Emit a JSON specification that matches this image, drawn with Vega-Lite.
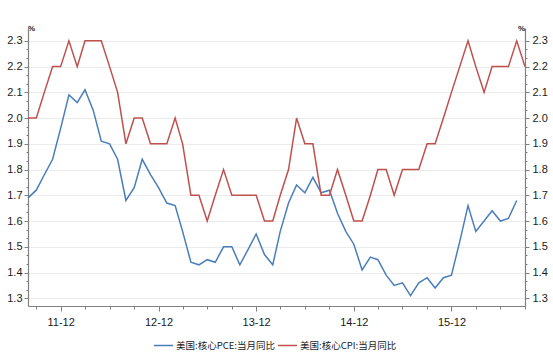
{
  "$schema": "https://vega.github.io/schema/vega-lite/v6.json",
  "width": 497,
  "height": 278,
  "autosize": {"type": "none"},
  "padding": {"left": 28, "top": 28, "right": 28, "bottom": 57},
  "background": "white",
  "config": {
    "view": {"stroke": null},
    "axis": {"labelFont": "Liberation Sans", "labelFontSize": 11, "labelColor": "#1a1a1a", "domainColor": "#808080", "tickColor": "#808080", "domainWidth": 1.2, "titleFont": "Liberation Sans", "titleColor": "#222222"}
  },
  "datasets": {
    "pce": [
      {"month": "2011-08-01", "series": "美国:核心PCE:当月同比", "value": 1.69},
      {"month": "2011-09-01", "series": "美国:核心PCE:当月同比", "value": 1.72},
      {"month": "2011-10-01", "series": "美国:核心PCE:当月同比", "value": 1.78},
      {"month": "2011-11-01", "series": "美国:核心PCE:当月同比", "value": 1.84},
      {"month": "2011-12-01", "series": "美国:核心PCE:当月同比", "value": 1.96},
      {"month": "2012-01-01", "series": "美国:核心PCE:当月同比", "value": 2.09},
      {"month": "2012-02-01", "series": "美国:核心PCE:当月同比", "value": 2.06},
      {"month": "2012-03-01", "series": "美国:核心PCE:当月同比", "value": 2.11},
      {"month": "2012-04-01", "series": "美国:核心PCE:当月同比", "value": 2.03},
      {"month": "2012-05-01", "series": "美国:核心PCE:当月同比", "value": 1.91},
      {"month": "2012-06-01", "series": "美国:核心PCE:当月同比", "value": 1.90},
      {"month": "2012-07-01", "series": "美国:核心PCE:当月同比", "value": 1.84},
      {"month": "2012-08-01", "series": "美国:核心PCE:当月同比", "value": 1.68},
      {"month": "2012-09-01", "series": "美国:核心PCE:当月同比", "value": 1.73},
      {"month": "2012-10-01", "series": "美国:核心PCE:当月同比", "value": 1.84},
      {"month": "2012-11-01", "series": "美国:核心PCE:当月同比", "value": 1.78},
      {"month": "2012-12-01", "series": "美国:核心PCE:当月同比", "value": 1.73},
      {"month": "2013-01-01", "series": "美国:核心PCE:当月同比", "value": 1.67},
      {"month": "2013-02-01", "series": "美国:核心PCE:当月同比", "value": 1.66},
      {"month": "2013-03-01", "series": "美国:核心PCE:当月同比", "value": 1.56},
      {"month": "2013-04-01", "series": "美国:核心PCE:当月同比", "value": 1.44},
      {"month": "2013-05-01", "series": "美国:核心PCE:当月同比", "value": 1.43},
      {"month": "2013-06-01", "series": "美国:核心PCE:当月同比", "value": 1.45},
      {"month": "2013-07-01", "series": "美国:核心PCE:当月同比", "value": 1.44},
      {"month": "2013-08-01", "series": "美国:核心PCE:当月同比", "value": 1.50},
      {"month": "2013-09-01", "series": "美国:核心PCE:当月同比", "value": 1.50},
      {"month": "2013-10-01", "series": "美国:核心PCE:当月同比", "value": 1.43},
      {"month": "2013-11-01", "series": "美国:核心PCE:当月同比", "value": 1.49},
      {"month": "2013-12-01", "series": "美国:核心PCE:当月同比", "value": 1.55},
      {"month": "2014-01-01", "series": "美国:核心PCE:当月同比", "value": 1.47},
      {"month": "2014-02-01", "series": "美国:核心PCE:当月同比", "value": 1.43},
      {"month": "2014-03-01", "series": "美国:核心PCE:当月同比", "value": 1.56},
      {"month": "2014-04-01", "series": "美国:核心PCE:当月同比", "value": 1.67},
      {"month": "2014-05-01", "series": "美国:核心PCE:当月同比", "value": 1.74},
      {"month": "2014-06-01", "series": "美国:核心PCE:当月同比", "value": 1.71},
      {"month": "2014-07-01", "series": "美国:核心PCE:当月同比", "value": 1.77},
      {"month": "2014-08-01", "series": "美国:核心PCE:当月同比", "value": 1.71},
      {"month": "2014-09-01", "series": "美国:核心PCE:当月同比", "value": 1.72},
      {"month": "2014-10-01", "series": "美国:核心PCE:当月同比", "value": 1.63},
      {"month": "2014-11-01", "series": "美国:核心PCE:当月同比", "value": 1.56},
      {"month": "2014-12-01", "series": "美国:核心PCE:当月同比", "value": 1.51},
      {"month": "2015-01-01", "series": "美国:核心PCE:当月同比", "value": 1.41},
      {"month": "2015-02-01", "series": "美国:核心PCE:当月同比", "value": 1.46},
      {"month": "2015-03-01", "series": "美国:核心PCE:当月同比", "value": 1.45},
      {"month": "2015-04-01", "series": "美国:核心PCE:当月同比", "value": 1.39},
      {"month": "2015-05-01", "series": "美国:核心PCE:当月同比", "value": 1.35},
      {"month": "2015-06-01", "series": "美国:核心PCE:当月同比", "value": 1.36},
      {"month": "2015-07-01", "series": "美国:核心PCE:当月同比", "value": 1.31},
      {"month": "2015-08-01", "series": "美国:核心PCE:当月同比", "value": 1.36},
      {"month": "2015-09-01", "series": "美国:核心PCE:当月同比", "value": 1.38},
      {"month": "2015-10-01", "series": "美国:核心PCE:当月同比", "value": 1.34},
      {"month": "2015-11-01", "series": "美国:核心PCE:当月同比", "value": 1.38},
      {"month": "2015-12-01", "series": "美国:核心PCE:当月同比", "value": 1.39},
      {"month": "2016-01-01", "series": "美国:核心PCE:当月同比", "value": 1.52},
      {"month": "2016-02-01", "series": "美国:核心PCE:当月同比", "value": 1.66},
      {"month": "2016-03-01", "series": "美国:核心PCE:当月同比", "value": 1.56},
      {"month": "2016-04-01", "series": "美国:核心PCE:当月同比", "value": 1.60},
      {"month": "2016-05-01", "series": "美国:核心PCE:当月同比", "value": 1.64},
      {"month": "2016-06-01", "series": "美国:核心PCE:当月同比", "value": 1.60},
      {"month": "2016-07-01", "series": "美国:核心PCE:当月同比", "value": 1.61},
      {"month": "2016-08-01", "series": "美国:核心PCE:当月同比", "value": 1.68}
    ],
    "cpi": [
      {"month": "2011-08-01", "series": "美国:核心CPI:当月同比", "value": 2.0},
      {"month": "2011-09-01", "series": "美国:核心CPI:当月同比", "value": 2.0},
      {"month": "2011-10-01", "series": "美国:核心CPI:当月同比", "value": 2.1},
      {"month": "2011-11-01", "series": "美国:核心CPI:当月同比", "value": 2.2},
      {"month": "2011-12-01", "series": "美国:核心CPI:当月同比", "value": 2.2},
      {"month": "2012-01-01", "series": "美国:核心CPI:当月同比", "value": 2.3},
      {"month": "2012-02-01", "series": "美国:核心CPI:当月同比", "value": 2.2},
      {"month": "2012-03-01", "series": "美国:核心CPI:当月同比", "value": 2.3},
      {"month": "2012-04-01", "series": "美国:核心CPI:当月同比", "value": 2.3},
      {"month": "2012-05-01", "series": "美国:核心CPI:当月同比", "value": 2.3},
      {"month": "2012-06-01", "series": "美国:核心CPI:当月同比", "value": 2.2},
      {"month": "2012-07-01", "series": "美国:核心CPI:当月同比", "value": 2.1},
      {"month": "2012-08-01", "series": "美国:核心CPI:当月同比", "value": 1.9},
      {"month": "2012-09-01", "series": "美国:核心CPI:当月同比", "value": 2.0},
      {"month": "2012-10-01", "series": "美国:核心CPI:当月同比", "value": 2.0},
      {"month": "2012-11-01", "series": "美国:核心CPI:当月同比", "value": 1.9},
      {"month": "2012-12-01", "series": "美国:核心CPI:当月同比", "value": 1.9},
      {"month": "2013-01-01", "series": "美国:核心CPI:当月同比", "value": 1.9},
      {"month": "2013-02-01", "series": "美国:核心CPI:当月同比", "value": 2.0},
      {"month": "2013-03-01", "series": "美国:核心CPI:当月同比", "value": 1.9},
      {"month": "2013-04-01", "series": "美国:核心CPI:当月同比", "value": 1.7},
      {"month": "2013-05-01", "series": "美国:核心CPI:当月同比", "value": 1.7},
      {"month": "2013-06-01", "series": "美国:核心CPI:当月同比", "value": 1.6},
      {"month": "2013-07-01", "series": "美国:核心CPI:当月同比", "value": 1.7},
      {"month": "2013-08-01", "series": "美国:核心CPI:当月同比", "value": 1.8},
      {"month": "2013-09-01", "series": "美国:核心CPI:当月同比", "value": 1.7},
      {"month": "2013-10-01", "series": "美国:核心CPI:当月同比", "value": 1.7},
      {"month": "2013-11-01", "series": "美国:核心CPI:当月同比", "value": 1.7},
      {"month": "2013-12-01", "series": "美国:核心CPI:当月同比", "value": 1.7},
      {"month": "2014-01-01", "series": "美国:核心CPI:当月同比", "value": 1.6},
      {"month": "2014-02-01", "series": "美国:核心CPI:当月同比", "value": 1.6},
      {"month": "2014-03-01", "series": "美国:核心CPI:当月同比", "value": 1.7},
      {"month": "2014-04-01", "series": "美国:核心CPI:当月同比", "value": 1.8},
      {"month": "2014-05-01", "series": "美国:核心CPI:当月同比", "value": 2.0},
      {"month": "2014-06-01", "series": "美国:核心CPI:当月同比", "value": 1.9},
      {"month": "2014-07-01", "series": "美国:核心CPI:当月同比", "value": 1.9},
      {"month": "2014-08-01", "series": "美国:核心CPI:当月同比", "value": 1.7},
      {"month": "2014-09-01", "series": "美国:核心CPI:当月同比", "value": 1.7},
      {"month": "2014-10-01", "series": "美国:核心CPI:当月同比", "value": 1.8},
      {"month": "2014-11-01", "series": "美国:核心CPI:当月同比", "value": 1.7},
      {"month": "2014-12-01", "series": "美国:核心CPI:当月同比", "value": 1.6},
      {"month": "2015-01-01", "series": "美国:核心CPI:当月同比", "value": 1.6},
      {"month": "2015-02-01", "series": "美国:核心CPI:当月同比", "value": 1.7},
      {"month": "2015-03-01", "series": "美国:核心CPI:当月同比", "value": 1.8},
      {"month": "2015-04-01", "series": "美国:核心CPI:当月同比", "value": 1.8},
      {"month": "2015-05-01", "series": "美国:核心CPI:当月同比", "value": 1.7},
      {"month": "2015-06-01", "series": "美国:核心CPI:当月同比", "value": 1.8},
      {"month": "2015-07-01", "series": "美国:核心CPI:当月同比", "value": 1.8},
      {"month": "2015-08-01", "series": "美国:核心CPI:当月同比", "value": 1.8},
      {"month": "2015-09-01", "series": "美国:核心CPI:当月同比", "value": 1.9},
      {"month": "2015-10-01", "series": "美国:核心CPI:当月同比", "value": 1.9},
      {"month": "2015-11-01", "series": "美国:核心CPI:当月同比", "value": 2.0},
      {"month": "2015-12-01", "series": "美国:核心CPI:当月同比", "value": 2.1},
      {"month": "2016-01-01", "series": "美国:核心CPI:当月同比", "value": 2.2},
      {"month": "2016-02-01", "series": "美国:核心CPI:当月同比", "value": 2.3},
      {"month": "2016-03-01", "series": "美国:核心CPI:当月同比", "value": 2.2},
      {"month": "2016-04-01", "series": "美国:核心CPI:当月同比", "value": 2.1},
      {"month": "2016-05-01", "series": "美国:核心CPI:当月同比", "value": 2.2},
      {"month": "2016-06-01", "series": "美国:核心CPI:当月同比", "value": 2.2},
      {"month": "2016-07-01", "series": "美国:核心CPI:当月同比", "value": 2.2},
      {"month": "2016-08-01", "series": "美国:核心CPI:当月同比", "value": 2.3},
      {"month": "2016-09-01", "series": "美国:核心CPI:当月同比", "value": 2.2}
    ]
  },
  "encoding": {
    "x": {
      "field": "month",
      "type": "temporal",
      "scale": {"type": "utc", "domain": [{"year": 2011, "month": 8, "date": 1, "utc": true}, {"year": 2016, "month": 9, "date": 1, "utc": true}]},
      "axis": {
        "title": null,
        "grid": false,
        "values": [
          {"year": 2011, "month": 9, "date": 1, "utc": true},
          {"year": 2011, "month": 12, "date": 1, "utc": true},
          {"year": 2012, "month": 3, "date": 1, "utc": true},
          {"year": 2012, "month": 6, "date": 1, "utc": true},
          {"year": 2012, "month": 9, "date": 1, "utc": true},
          {"year": 2012, "month": 12, "date": 1, "utc": true},
          {"year": 2013, "month": 3, "date": 1, "utc": true},
          {"year": 2013, "month": 6, "date": 1, "utc": true},
          {"year": 2013, "month": 9, "date": 1, "utc": true},
          {"year": 2013, "month": 12, "date": 1, "utc": true},
          {"year": 2014, "month": 3, "date": 1, "utc": true},
          {"year": 2014, "month": 6, "date": 1, "utc": true},
          {"year": 2014, "month": 9, "date": 1, "utc": true},
          {"year": 2014, "month": 12, "date": 1, "utc": true},
          {"year": 2015, "month": 3, "date": 1, "utc": true},
          {"year": 2015, "month": 6, "date": 1, "utc": true},
          {"year": 2015, "month": 9, "date": 1, "utc": true},
          {"year": 2015, "month": 12, "date": 1, "utc": true},
          {"year": 2016, "month": 3, "date": 1, "utc": true},
          {"year": 2016, "month": 6, "date": 1, "utc": true},
          {"year": 2016, "month": 9, "date": 1, "utc": true}
        ],
        "labelExpr": "utcmonth(datum.value) == 11 ? utcFormat(datum.value, '%y-%m') : ''",
        "tickSize": {"condition": {"test": "utcmonth(datum.value) == 11", "value": 5}, "value": 3},
        "labelPadding": 5,
        "labelOverlap": false,
        "labelFlush": false
      }
    },
    "color": {
      "field": "series",
      "type": "nominal",
      "scale": {"domain": ["美国:核心PCE:当月同比", "美国:核心CPI:当月同比"], "range": ["#4a7ebb", "#c0504d"]},
      "legend": {
        "title": null,
        "orient": "none",
        "legendX": 125,
        "legendY": 307,
        "direction": "horizontal",
        "symbolType": "stroke",
        "symbolSize": 361,
        "symbolStrokeWidth": 1.5,
        "labelFont": "Noto Sans CJK SC",
        "labelFontSize": 9.5,
        "labelColor": "#1a1a1a",
        "labelLimit": 300,
        "labelOffset": 2,
        "columnPadding": 0,
        "padding": 0
      }
    }
  },
  "layer": [
    {
      "data": {"name": "pce"},
      "mark": {"type": "line", "strokeWidth": 1.5},
      "encoding": {
        "y": {
          "field": "value",
          "type": "quantitative",
          "scale": {"domain": [1.27, 2.35], "nice": false, "zero": false},
          "axis": {
            "orient": "left",
            "values": [1.3, 1.3333, 1.3667, 1.4, 1.4333, 1.4667, 1.5, 1.5333, 1.5667, 1.6, 1.6333, 1.6667, 1.7, 1.7333, 1.7667, 1.8, 1.8333, 1.8667, 1.9, 1.9333, 1.9667, 2.0, 2.0333, 2.0667, 2.1, 2.1333, 2.1667, 2.2, 2.2333, 2.2667, 2.3],
            "labelExpr": "abs(datum.value*10 - round(datum.value*10)) < 0.01 ? format(datum.value, '.1f') : ''",
            "tickSize": {"condition": {"test": "abs(datum.value*10 - round(datum.value*10)) < 0.01", "value": 4}, "value": 2},
            "grid": true,
            "gridColor": "#ececec",
            "gridOpacity": {"condition": {"test": "abs(datum.value*10 - round(datum.value*10)) < 0.01", "value": 1}, "value": 0},
            "labelPadding": 2,
            "labelOverlap": false,
            "labelFlush": false,
            "title": "%",
            "titleAngle": 0,
            "titleX": 3,
            "titleY": 4,
            "titleAlign": "center",
            "titleBaseline": "bottom",
            "titleFontSize": 8,
            "titleFontWeight": "bold"
          }
        }
      }
    },
    {
      "data": {"name": "cpi"},
      "mark": {"type": "line", "strokeWidth": 1.5},
      "encoding": {
        "y": {
          "field": "value",
          "type": "quantitative",
          "scale": {"domain": [1.27, 2.35], "nice": false, "zero": false},
          "axis": {
            "orient": "right",
            "values": [1.3, 1.3333, 1.3667, 1.4, 1.4333, 1.4667, 1.5, 1.5333, 1.5667, 1.6, 1.6333, 1.6667, 1.7, 1.7333, 1.7667, 1.8, 1.8333, 1.8667, 1.9, 1.9333, 1.9667, 2.0, 2.0333, 2.0667, 2.1, 2.1333, 2.1667, 2.2, 2.2333, 2.2667, 2.3],
            "labelExpr": "abs(datum.value*10 - round(datum.value*10)) < 0.01 ? format(datum.value, '.1f') : ''",
            "tickSize": {"condition": {"test": "abs(datum.value*10 - round(datum.value*10)) < 0.01", "value": 4}, "value": 2},
            "grid": false,
            "labelPadding": 3,
            "labelOverlap": false,
            "labelFlush": false,
            "title": "%",
            "titleAngle": 0,
            "titleX": -4,
            "titleY": 4,
            "titleAlign": "center",
            "titleBaseline": "bottom",
            "titleFontSize": 8,
            "titleFontWeight": "bold"
          }
        }
      }
    }
  ],
  "resolve": {"scale": {"y": "independent"}}
}
